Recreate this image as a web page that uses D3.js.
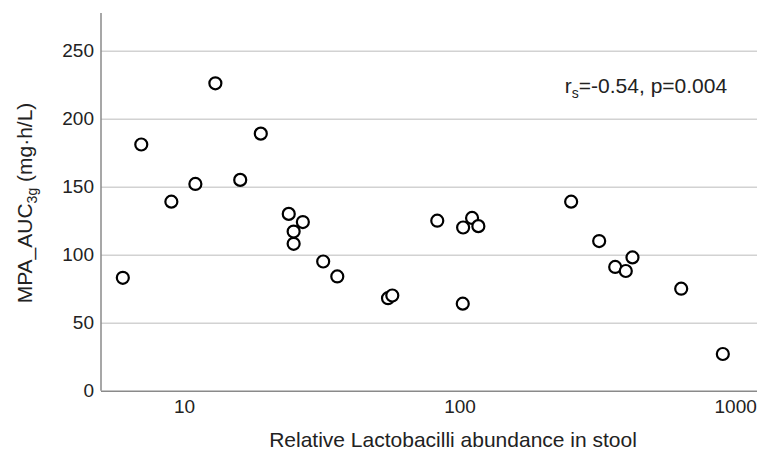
<!DOCTYPE html>
<html>
<head>
<meta charset="utf-8">
<script src="https://cdn.jsdelivr.net/npm/d3@7"></script>
<style>
  body { margin: 0; background: #fff; }
  svg text { font-family: "Liberation Sans", Arial, sans-serif; fill: #222; }
</style>
</head>
<body>
<svg id="chart" width="768" height="457"></svg>
<script>
// Lactobacilli abundance (x, log scale) vs MPA AUC (y)
var abundance = [6, 7, 9, 11, 13, 16, 19, 24, 27, 25, 25, 32, 36, 55, 57,
                 83, 103, 111, 117, 102.7, 254, 321, 367, 401, 424, 637, 902];
var auc = [83, 181, 139, 152, 226, 155, 189, 130, 124, 117, 108, 95, 84, 68, 70,
           125, 120, 127, 121, 64, 139, 110, 91, 88, 98, 75, 27];
var yTicks = [0, 50, 100, 150, 200, 250];
var xTicks = [10, 100, 1000];

function scatter() {
  var svg = d3.select("#chart"),
      left = 101, right = 757, top = 13, bottom = 390.7;

  var x = d3.scaleLog().domain([5, 1200]).range([left, right]),
      y = d3.scaleLinear().domain([0, 277.7]).range([bottom, top]);

  // gridlines + y labels
  var gy = svg.append("g")
    .attr("transform", "translate(" + left + ",0)")
    .call(d3.axisLeft(y).tickValues(yTicks).tickSize(-(right - left)).tickPadding(7));
  gy.select(".domain").remove();
  gy.selectAll(".tick line")
    .attr("stroke", d => d === 0 ? "#8a8a8a" : "#d2d2d2")
    .attr("stroke-width", 1.5);
  gy.selectAll(".tick text").attr("font-size", 19).attr("fill", "#222");

  // x axis labels
  var gx = svg.append("g")
    .attr("transform", "translate(0," + bottom + ")")
    .call(d3.axisBottom(x).tickValues(xTicks).tickFormat(d3.format("d")).tickSize(0).tickPadding(9));
  gx.select(".domain").remove();
  gx.selectAll(".tick text").attr("font-size", 19).attr("fill", "#222");

  // y axis line
  svg.append("line")
    .attr("x1", left).attr("x2", left)
    .attr("y1", top).attr("y2", bottom)
    .attr("stroke", "#8a8a8a").attr("stroke-width", 1.5);

  svg.append("g").selectAll("circle")
    .data(abundance)
    .enter().append("circle")
    .attr("cx", d => x(d))
    .attr("cy", (d, i) => y(auc[i]))
    .attr("r", 6)
    .attr("fill", "#fff")
    .attr("stroke", "#000")
    .attr("stroke-width", 2.2);

  // axis titles
  svg.append("text")
    .attr("x", 453)
    .attr("y", 447)
    .attr("text-anchor", "middle")
    .attr("font-size", 21)
    .text("Relative Lactobacilli abundance in stool");

  var yt = svg.append("text")
    .attr("transform", "translate(32,203) rotate(-90)")
    .attr("text-anchor", "middle")
    .attr("font-size", 21);
  yt.append("tspan").text("MPA_AUC");
  yt.append("tspan").attr("dy", 5).attr("font-size", 14).text("3g");
  yt.append("tspan").attr("dy", -5).text(" (mg\u00b7h/L)");

  // correlation note
  var note = svg.append("text")
    .attr("x", 646).attr("y", 93)
    .attr("text-anchor", "middle")
    .attr("font-size", 21);
  note.append("tspan").text("r");
  note.append("tspan").attr("dy", 5).attr("font-size", 14).text("s");
  note.append("tspan").attr("dy", -5).text("=-0.54, p=0.004");
}

scatter();
</script>
</body>
</html>
